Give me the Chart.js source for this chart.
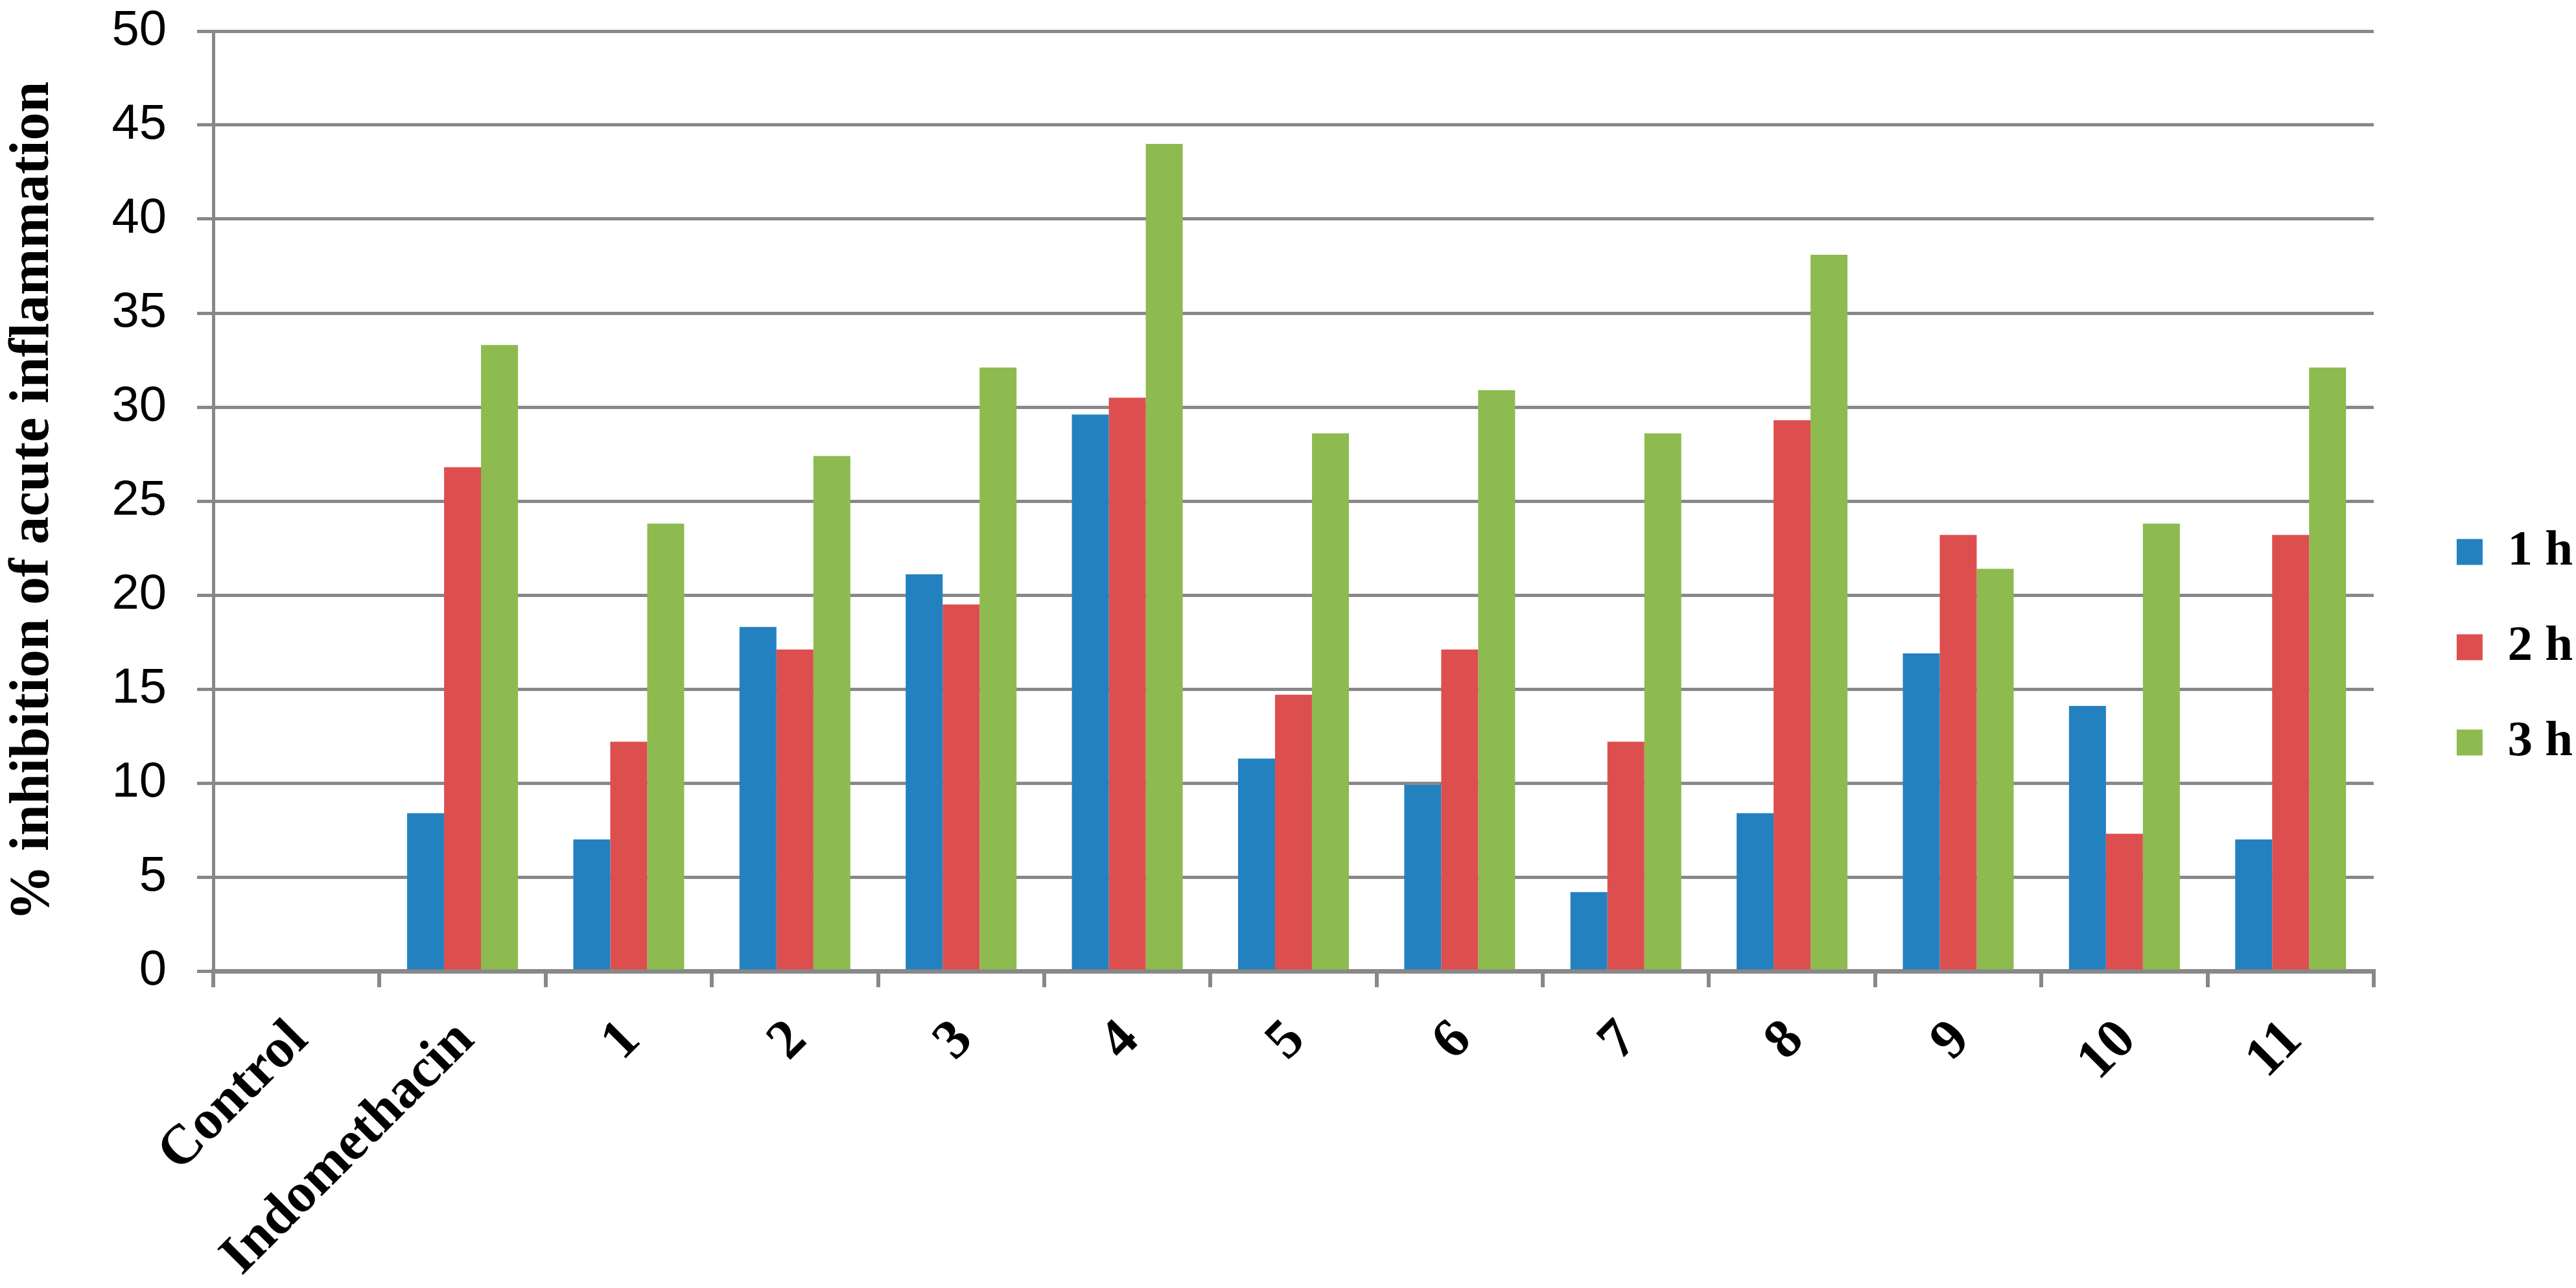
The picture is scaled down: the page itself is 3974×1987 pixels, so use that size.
<!DOCTYPE html>
<html>
<head>
  <title>% inhibition of acute inflammation</title>
  <script src="https://cdn.jsdelivr.net/npm/chart.js"></script>
  <style>
    body { margin: 0; background: #ffffff; }
    #wrap { width: 3974px; height: 1987px; }
  </style>
</head>
<body>
  <div id="wrap"><canvas id="chart"></canvas></div>

  <script>
    // data
    const categories = ['Control', 'Indomethacin', '1', '2', '3', '4', '5', '6', '7', '8', '9', '10', '11'];
    const seriesNames = ['1 h', '2 h', '3 h'];
    const values1h = [0, 8.4, 7.0, 18.3, 21.1, 29.6, 11.3, 9.9, 4.2, 8.4, 16.9, 14.1, 7.0];
    const values2h = [0, 26.8, 12.2, 17.1, 19.5, 30.5, 14.7, 17.1, 12.2, 29.3, 23.2, 7.3, 23.2];
    const values3h = [0, 33.3, 23.8, 27.4, 32.1, 44.0, 28.6, 30.9, 28.6, 38.1, 21.4, 23.8, 32.1];
    const yMin = 0;
    const yMax = 50;
    const yStep = 5;

    const colors = ['#2381C0', '#DD4F4F', '#8DBB4F'];
    const axisGray = '#888888';

    // move the legend block to where the original has it
    const legendShift = {
      id: 'legendShift',
      afterLayout(chart) {
        const lg = chart.legend;
        if (!lg) return;
        lg.left += 58; lg.right += 58;
        lg.top -= 19; lg.bottom -= 19;
      }
    };

    const ctx = document.getElementById('chart').getContext('2d');
    const chart = new Chart(ctx, {
      type: 'bar',
      data: {
        labels: categories,
        datasets: [values1h, values2h, values3h].map((vals, i) => ({
          label: seriesNames[i],
          data: vals,
          backgroundColor: colors[i],
          borderWidth: 0,
          barPercentage: 1.0,
          categoryPercentage: 0.667
        }))
      },
      options: {
        responsive: true,
        maintainAspectRatio: false,
        devicePixelRatio: 1,
        animation: false,
        layout: { padding: { top: 48, right: 53, bottom: 0, left: 0 } },
        plugins: {
          tooltip: { enabled: false },
          legend: {
            position: 'right',
            labels: {
              boxWidth: 40,
              boxHeight: 40,
              padding: 70,
              color: '#000000',
              font: { family: 'Liberation Serif', size: 77, weight: 'bold' }
            }
          }
        },
        scales: {
          x: {
            z: 1,
            grid: {
              display: true,
              drawOnChartArea: false,
              drawTicks: true,
              tickLength: 25,
              lineWidth: 6,
              color: axisGray,
              offset: true
            },
            border: { display: true, color: axisGray, width: 7 },
            ticks: {
              autoSkip: false,
              minRotation: 45,
              maxRotation: 45,
              padding: 32,
              labelOffset: 5,
              color: '#000000',
              font: { family: 'Liberation Serif', size: 86, weight: 'bold' }
            },
            afterFit(scale) { scale.height = 489; }
          },
          y: {
            min: yMin,
            max: yMax,
            ticks: {
              stepSize: yStep,
              padding: 47,
              color: '#000000',
              font: { family: 'Liberation Sans', size: 76 }
            },
            grid: { color: axisGray, lineWidth: 5, tickLength: 25 },
            border: { display: true, color: axisGray, width: 5 },
            title: {
              display: true,
              text: '% inhibition of acute inflammation',
              color: '#000000',
              padding: 0,
              font: { family: 'Liberation Serif', size: 86, weight: 'bold' }
            },
            afterFit(scale) {
              scale.width = 329;
              scale.paddingTop = 0;
              scale.paddingBottom = 0;
            }
          }
        }
      },
      plugins: [legendShift]
    });
  </script>
</body>
</html>
